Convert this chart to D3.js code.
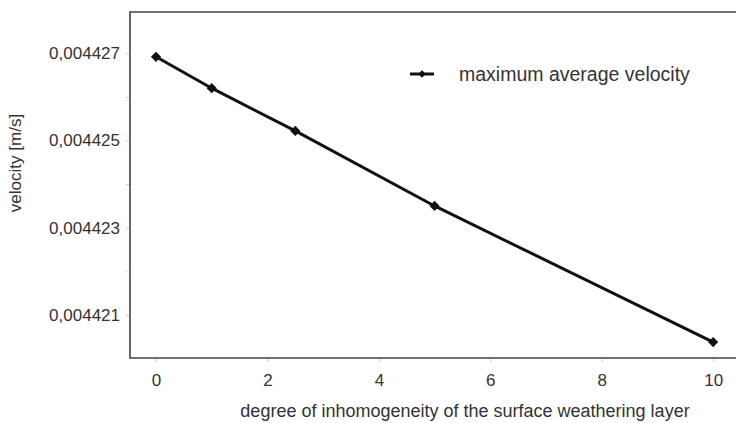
<!DOCTYPE html>
<html>
<head>
<meta charset="utf-8">
<script src="https://cdn.jsdelivr.net/npm/d3@7"></script>
<style>
  body { margin: 0; background: #fff; }
  text { font-family: "Liberation Sans", Arial, sans-serif; fill: #333; }
</style>
</head>
<body>
<svg id="chart" width="736" height="423"></svg>
<script>
// data
const degree = [0, 1, 2.5, 5, 10];
const velocity = [0.00442692, 0.0044262, 0.00442522, 0.0044235, 0.00442038];
const xTicks = [0, 2, 4, 6, 8, 10];
const yTicks = [0.004421, 0.004423, 0.004425, 0.004427];
const yMinorTicks = [0.004422, 0.004424, 0.004426];
const seriesName = "maximum average velocity";

const svg = d3.select("#chart");
const plotLeft = 130, plotTop = 12, plotBottom = 358, plotRight = 736;

const x = d3.scaleLinear().domain([-0.467, 10.41]).range([plotLeft, plotRight]);
const y = d3.scaleLinear().domain([0.004420014, 0.004427947]).range([plotBottom, plotTop]);

const fmt = (v) => d3.format(".6f")(v).replace(".", ",");

// ticks (faint grey, outside)
const yAxis = d3.axisLeft(y).tickValues(yTicks).tickFormat(fmt).tickSize(4).tickPadding(6);
const gy = svg.append("g").attr("transform", `translate(${plotLeft},0)`).call(yAxis);
gy.select(".domain").remove();
gy.selectAll(".tick line").attr("stroke", "#ccc");
gy.selectAll(".tick text").style("font-size", "17px").attr("fill", "#333");

svg.append("g").attr("transform", `translate(${plotLeft},0)`)
  .call(d3.axisLeft(y).tickValues(yMinorTicks).tickFormat("").tickSize(4))
  .call((g) => g.select(".domain").remove())
  .selectAll(".tick line").attr("stroke", "#ccc");

const xAxis = d3.axisBottom(x).tickValues(xTicks).tickSize(4).tickPadding(12);
const gx = svg.append("g").attr("transform", `translate(0,${plotBottom})`).call(xAxis);
gx.select(".domain").remove();
gx.selectAll(".tick line").attr("stroke", "#ccc");
gx.selectAll(".tick text").style("font-size", "17px").attr("fill", "#333");

// frame: left, top, bottom (no right side visible)
svg.append("path")
  .attr("d", `M${plotRight},${plotTop}H${plotLeft}V${plotBottom}H${plotRight}`)
  .attr("fill", "none")
  .attr("stroke", "#444")
  .attr("stroke-width", 1.6);

// series
const pts = degree.map((d, i) => [d, velocity[i]]);
svg.append("path")
  .datum(pts)
  .attr("fill", "none")
  .attr("stroke", "#111")
  .attr("stroke-width", 3)
  .attr("d", d3.line().x((d) => x(d[0])).y((d) => y(d[1])));

// square diamonds (rotated squares)
const marker = d3.symbol().type(d3.symbolSquare).size(52);
svg.selectAll("path.pt")
  .data(pts)
  .join("path")
  .attr("class", "pt")
  .attr("transform", (d) => `translate(${x(d[0])},${y(d[1])}) rotate(45)`)
  .attr("d", marker)
  .attr("fill", "#111");

// legend
const lg = svg.append("g").attr("transform", "translate(410,74)");
lg.append("line").attr("x1", 0).attr("x2", 24).attr("stroke", "#111").attr("stroke-width", 3);
lg.append("path").attr("transform", "translate(12,0) rotate(45)")
  .attr("d", d3.symbol().type(d3.symbolSquare).size(30)).attr("fill", "#111");
lg.append("text").attr("x", 49).attr("dy", "0.35em")
  .style("font-size", "19.5px").text(seriesName);

// axis titles
svg.append("text")
  .attr("transform", "translate(21,163) rotate(-90)")
  .attr("text-anchor", "middle")
  .style("font-size", "17px")
  .text("velocity [m/s]");

svg.append("text")
  .attr("x", 465).attr("y", 417)
  .attr("text-anchor", "middle")
  .style("font-size", "18px")
  .text("degree of inhomogeneity of the surface weathering layer");
</script>
</body>
</html>
